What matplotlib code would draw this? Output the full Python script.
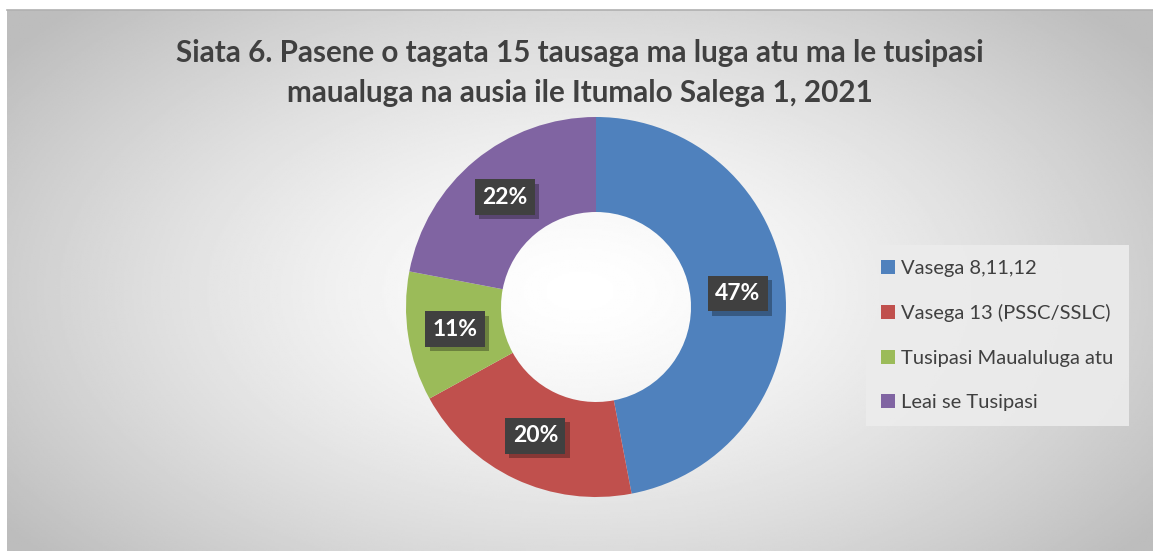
import matplotlib.pyplot as plt
import matplotlib.patheffects as pe
import numpy as np

title = "Siata 6. Pasene o tagata 15 tausaga ma luga atu ma le tusipasi\nmaualuga na ausia ile Itumalo Salega 1, 2021"
categories = ["Vasega 8,11,12", "Vasega 13 (PSSC/SSLC)", "Tusipasi Maualuluga atu", "Leai se Tusipasi"]
shares = [47, 20, 11, 22]
colors = ["#4F81BD", "#C0504D", "#9BBB59", "#8064A2"]

plt.rcParams['font.family'] = ['Lato', 'DejaVu Sans']

W, H = 1153, 551
fig = plt.figure(figsize=(W / 100, H / 100), dpi=100)

# radial grey gradient behind the chart area
bg = fig.add_axes([7 / W, 0, 1 - 7 / W, 1 - 10 / H])
yy, xx = np.mgrid[0:1:300j, 0:1:600j]
d = np.sqrt(((xx - 0.5) / 0.62) ** 2 + ((yy - 0.52) / 0.75) ** 2)
shade = np.clip(1.0 - 0.26 * d ** 1.4, 0.74, 1.0)
bg.imshow(shade, cmap='gray', vmin=0, vmax=1, aspect='auto', extent=[0, 1, 0, 1])
bg.axis('off')
fig.add_artist(plt.Line2D([7 / W, 1], [1 - 10 / H, 1 - 10 / H], color='#b0b0b0', lw=1.2))

ax = fig.add_axes([406 / W, 54 / H, 380 / W, 380 / H])
wedges, _ = ax.pie(shares, colors=colors, startangle=90, counterclock=False,
                   radius=1.0, wedgeprops=dict(width=0.5, edgecolor='none'))
ax.set_xlim(-1, 1)
ax.set_ylim(-1, 1)
ax.set_aspect('equal')
ax.axis('off')

start = 90.0
for v in shares:
    mid = np.deg2rad(start - v / 100 * 360 / 2)
    start -= v / 100 * 360
    x, y = 0.75 * np.cos(mid), 0.75 * np.sin(mid)
    t = ax.text(x, y, f"{v}%", ha='center', va='center', fontsize=16.5,
                fontweight='bold', color='white',
                bbox=dict(boxstyle='square,pad=0.32', fc='#404040', ec='none'))
    t.get_bbox_patch().set_path_effects([
        pe.SimplePatchShadow(offset=(3, -3), shadow_rgbFace='black', alpha=0.3),
        pe.Normal()])

fig.text(580 / W, 1 - 73 / H, title, ha='center', va='center', fontsize=21.3,
         fontweight='bold', color='#404040', linespacing=1.55)

leg = fig.legend(wedges, categories, loc='upper left',
                 bbox_to_anchor=(866 / W, 1 - 245 / H), frameon=True,
                 fontsize=14.5, labelcolor='#404040', handlelength=0.7,
                 handleheight=0.7, handletextpad=0.3, labelspacing=1.35,
                 borderpad=0.75, borderaxespad=0, fancybox=False)
leg.get_frame().set_facecolor('#ececec')
leg.get_frame().set_edgecolor('none')
leg.get_frame().set_alpha(0.9)

fig.savefig('out.png', dpi=100)
